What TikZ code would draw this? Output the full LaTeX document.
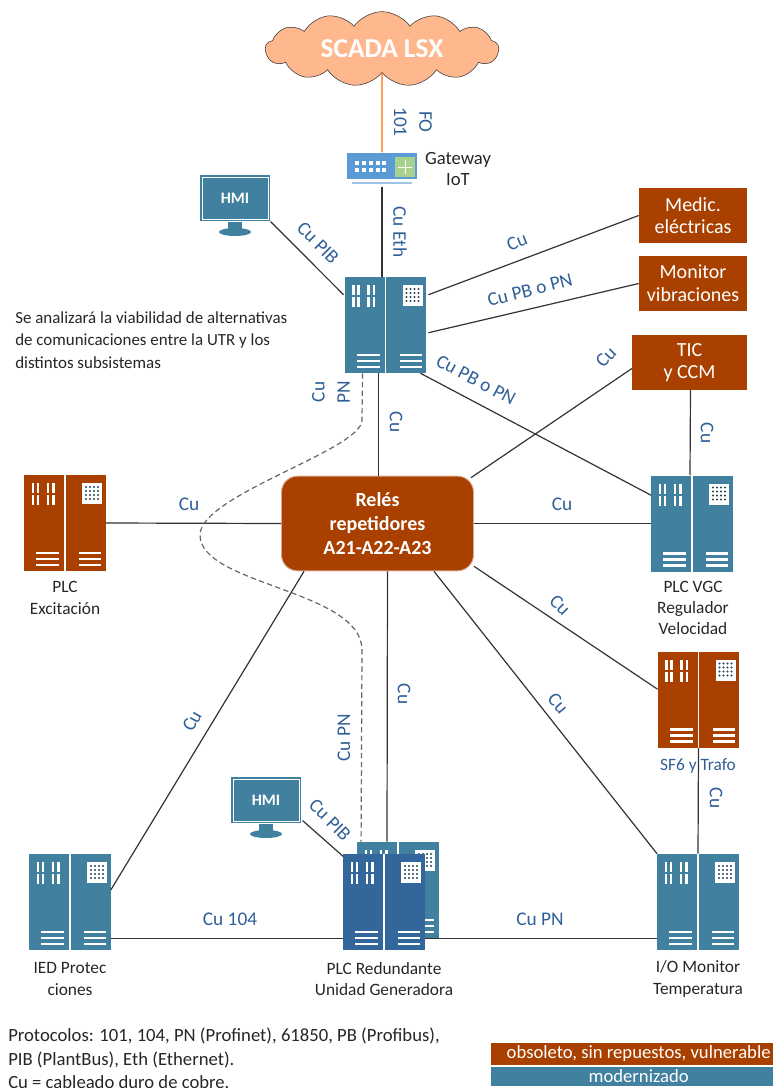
\documentclass[tikz,border=0pt]{standalone}
\usepackage{fontspec}
\setmainfont{Carlito}
\usetikzlibrary{calc,shapes.symbols}
\definecolor{rust}{HTML}{A94000}
\definecolor{teal2}{HTML}{42809F}
\definecolor{navy2}{HTML}{33669A}
\definecolor{lblblue}{HTML}{2F5F96}
\definecolor{peach}{HTML}{FFB78E}
\definecolor{gwblue}{HTML}{5B9BD5}
\definecolor{gwgreen}{HTML}{A9D18E}
\tikzset{
    rack/.style={rectangle,inner sep=0pt,minimum width=61pt,minimum height=72pt},
    rackmarks/.pic={
        \fill[white] (-0.7,-48) rectangle (0.7,48);
        \foreach \i in {-32,-27,-17,-11.5} \foreach \j in {-40,-28}
            \fill[white] (\i-1.4,\j) rectangle (\i+1.4,\j+10);
        \fill[white] (17,-40) rectangle (37,-19);
        \foreach \i in {21,25,29,33} \foreach \j in {-36,-32,-28,-24}
            \fill[black!45!teal2] (\i,\j) circle (1.2);
        \foreach \j in {30,36,42} {
            \fill[white] (-29,\j-1.2) rectangle (-6,\j+1.2);
            \fill[white] (14,\j-1.2) rectangle (36,\j+1.2);
        }
    },
    hmibox/.style={rectangle,fill=teal2,inner sep=0pt,minimum width=53pt,minimum height=35pt,text=white,font=\fontsize{12}{12}\selectfont\bfseries},
    hmimarks/.pic={
        \draw[white,line width=0.7pt] (-33,-21) rectangle (33,21);
        \fill[teal2] (-7,24) rectangle (7,32);
        \fill[teal2] (0,34) ellipse (16 and 4);
    },
    brownbox/.style={rectangle,fill=rust,text=white,inner sep=0pt,align=center,font=\fontsize{15}{17}\selectfont},
    lbl/.style={text=lblblue,inner sep=0pt,align=center,font=\fontsize{14.5}{19}\selectfont},
    captxt/.style={text=black!85,inner sep=0pt,align=center,font=\fontsize{13}{16}\selectfont},
    notetxt/.style={text=black!85,inner sep=0pt,align=left,anchor=west},
    wire/.style={draw=black!80,line width=0.9pt},
}

\begin{document}
\begin{tikzpicture}[x=0.75pt,y=-0.75pt]
    \useasboundingbox (0,0) rectangle (780,1088);

    \node[cloud,cloud puffs=13,cloud puff arc=110,aspect=3.2,draw=black!80,fill=peach,text=white,inner sep=0pt,
        minimum width=175pt,minimum height=56pt,font=\fontsize{20.5}{20.5}\selectfont\bfseries] (scada) at (382,49) {SCADA LSX};

    \node[rectangle,fill=gwblue,inner sep=0pt,minimum width=52pt,minimum height=20pt] (gw) at (382,166) {};
    \foreach \i in {357,364,371,378,384} \foreach \j in {163,170}
        \fill[white] (\i-2.2,\j-1.7) rectangle (\i+2.2,\j+1.7);
    \fill[gwgreen] (395,157) rectangle (415,177);
    \draw[white,line width=0.6pt] (405,160) -- (405,174) (398,167) -- (412,167);
    \draw[gwblue!60,line width=0.9pt] (352,183) -- (412,183);
    \node[captxt,font=\fontsize{14}{16}\selectfont] (gwcap) at (458,169) {Gateway\\IoT};

    \node[hmibox] (hmitop) at (235,198) {HMI};
    \pic at (hmitop) {hmimarks};
    \node[hmibox] (hmibot) at (266,800) {HMI};
    \pic at (hmibot) {hmimarks};

    \node[brownbox,minimum width=81pt,minimum height=41pt] (medic) at (693,215.5) {Medic.\\eléctricas};
    \node[brownbox,minimum width=81pt,minimum height=41pt] (monitor) at (693,283.5) {Monitor\\vibraciones};
    \node[brownbox,minimum width=86pt,minimum height=41pt] (tic) at (689.5,362.5) {TIC\\y CCM};
    \node[rectangle,rounded corners=12pt,fill=rust,draw=rust!45!white,line width=0.7pt,text=white,inner sep=0pt,align=center,
        minimum width=144pt,minimum height=71pt,font=\fontsize{15}{18}\selectfont\bfseries] (reles) at (377.5,523.5) {Relés\\repetidores\\A21-A22-A23};

    \node[rack,fill=teal2] (back) at (398,890) {};
    \pic at (back) {rackmarks};
    \node[rack,fill=teal2] (utr) at (385.5,325) {};
    \pic at (utr) {rackmarks};
    \node[rack,fill=rust] (excit) at (65,523) {};
    \pic at (excit) {rackmarks};
    \node[rack,fill=teal2] (vgc) at (692,523.5) {};
    \pic at (vgc) {rackmarks};
    \node[rack,fill=rust] (sf6) at (698.5,699.5) {};
    \pic at (sf6) {rackmarks};
    \node[rack,fill=teal2] (ied) at (70,902) {};
    \pic at (ied) {rackmarks};
    \node[rack,fill=teal2] (io) at (698,902) {};
    \pic at (io) {rackmarks};

    \draw[orange!85!red,line width=0.9pt] (scada.south) -- (gw.north);
    \draw[wire] ($(gw.south)+(0,7)$) -- (utr.north -| gw.south);
    \draw[wire] (hmitop.south east) -- ($(utr.north west)+(-1,18)$);
    \draw[wire] ($(utr.north east)+(2,18)$) -- (medic.west);
    \draw[wire] ($(utr.north east)+(2,56)$) -- (monitor.west);
    \draw[wire] ($(utr.south east)+(-6,0)$) -- ($(vgc.north west)+(0,20)$);
    \draw[wire] ($(utr.south)+(-7,0)$) -- ($(reles.north)+(1,0)$);
    \draw[wire] ($(tic.west)+(0,6)$) -- ($(reles.north east)+(-3,2)$);
    \draw[wire] ($(tic.south)+(1,0)$) -- ($(vgc.north)+(-2,0)$);
    \draw[wire] (excit.east) -- (reles.west);
    \draw[wire] (reles.east) -- (vgc.west);
    \draw[wire] ($(reles.south east)+(0,-5)$) -- ($(sf6.north west)+(0,38)$);
    \draw[wire] ($(reles.south west)+(23,0)$) -- ($(ied.north east)+(0,36)$);
    \draw[wire] ($(reles.south east)+(-40,0)$) -- (io.north west);
    \draw[wire] (sf6.south) -- (io.north);
    \draw[wire] ($(reles.south)+(10,0)$) -- ($(back.north)+(-11,0)$);
    \draw[wire] ($(ied.south east)+(0,-12)$) -- ($(io.south west)+(0,-12)$);
    \draw[wire] (hmibot.south east) ++(1,-3) -- (345,858);
    \draw[black!60,dash pattern=on 4pt off 2.5pt,line width=0.9pt] ($(utr.south)+(-23,0)$) -- (362,420)
        .. controls (362,450) and (200,495) .. (200,535)
        .. controls (200,585) and (362,590) .. (362,650) -- ($(back.north west)+(4,0)$);

    \node[rack,fill=navy2] (plc) at (384,902) {};
    \pic at (plc) {rackmarks};

    \node[lbl,rotate=-90] (lfo) at (413,122) {FO\\101};
    \node[lbl,rotate=-90] (leth) at (400,232) {Cu Eth};
    \node[lbl,rotate=-45] (lpib) at (318,243) {Cu PIB};
    \node[lbl,rotate=22] (lmed) at (517,242) {Cu};
    \node[lbl,rotate=14] (lmon) at (530,290) {Cu PB o PN};
    \node[lbl,rotate=-28] (lvgc) at (476,380) {Cu PB o PN};
    \node[lbl,rotate=45] (ltic) at (606,357) {Cu};
    \node[lbl,rotate=-90] (ltv) at (707,433) {Cu};
    \node[lbl,rotate=90] (lpn) at (331,392) {Cu\\PN};
    \node[lbl,rotate=-90] (lur) at (396,422) {Cu};
    \node[lbl] (lexc) at (189,504) {Cu};
    \node[lbl] (lrv) at (562,504) {Cu};
    \node[lbl,rotate=-45] (lsf) at (560,605) {Cu};
    \node[lbl,rotate=60] (lied) at (192,721) {Cu};
    \node[lbl,rotate=-90] (lrp) at (404,694) {Cu};
    \node[lbl,rotate=90] (lpn2) at (344,738) {Cu PN};
    \node[lbl,rotate=-50] (lio) at (558,703) {Cu};
    \node[lbl,rotate=-45] (lpib2) at (330,820) {Cu PIB};
    \node[lbl,rotate=-90] (lsi) at (716,798) {Cu};
    \node[lbl] (l104) at (230,919) {Cu 104};
    \node[lbl] (lpn3) at (540,919) {Cu PN};

    \node[captxt] (cexc) at (65,598) {PLC\\Excitación};
    \node[captxt] (cvgc) at (693,608) {PLC VGC\\Regulador\\Velocidad};
    \node[captxt,text=lblblue] (csf) at (698,766) {SF6 y Trafo};
    \node[captxt] (cied) at (70,979) {IED Protec\\ciones};
    \node[captxt] (cplc) at (384,979) {PLC Redundante\\Unidad Generadora};
    \node[captxt] (cio) at (698,979) {I/O Monitor\\Temperatura};

    \node[notetxt,font=\fontsize{12.7}{16.7}\selectfont] (analisis) at (15,340) {Se analizará la viabilidad de alternativas\\de comunicaciones entre la UTR y los\\distintos subsistemas};
    \node[notetxt,font=\fontsize{14}{17.7}\selectfont] (proto) at (8,1058.5) {Protocolos: 101, 104, PN (Profinet), 61850, PB (Profibus),\\PIB (PlantBus), Eth (Ethernet).\\Cu = cableado duro de cobre.};

    \node[rectangle,fill=rust,text=white,inner sep=0pt,minimum width=211.5pt,minimum height=16.5pt,font=\fontsize{14}{14}\selectfont] (legold) at (632,1054) {\hspace*{10pt}obsoleto, sin repuestos, vulnerable};
    \node[rectangle,fill=teal2,text=white,inner sep=0pt,minimum width=211.5pt,minimum height=14pt,font=\fontsize{14}{14}\selectfont] (legnew) at (632,1076.5) {\hspace*{10pt}modernizado};
\end{tikzpicture}
\end{document}
